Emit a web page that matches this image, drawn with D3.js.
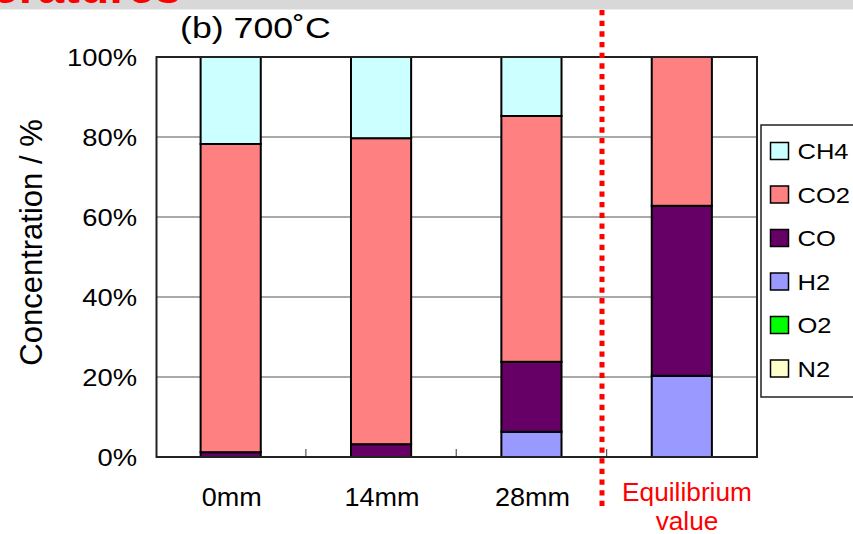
<!DOCTYPE html>
<html><head><meta charset="utf-8">
<script src="https://cdn.jsdelivr.net/npm/d3@7"></script>
<style>body{margin:0;background:#fff}svg{display:block}</style>
</head><body>
<script>
const categories = ["0mm", "14mm", "28mm", "Equilibrium"];
const seriesNames = ["N2", "O2", "H2", "CO", "CO2", "CH4"]; // stack order bottom -> top
const N2  = [0, 0, 0, 0];
const O2  = [0, 0, 0, 0];
const H2  = [0, 0, 6.3, 20.3];
const CO  = [1.2, 3.2, 17.5, 42.5];
const CO2 = [77.05, 76.5, 61.45, 37.2];
const CH4 = [21.75, 20.3, 14.75, 0];
const yTicks = [0, 20, 40, 60, 80, 100];
const legendOrder = ["CH4", "CO2", "CO", "H2", "O2", "N2"];
const colors = {CH4:"#CCFFFF", CO2:"#FF8080", CO:"#660066", H2:"#9999FF", O2:"#00FF00", N2:"#FFFFCC"};

const values = {N2, O2, H2, CO, CO2, CH4};
const rows = categories.map((c,i)=>{const r={cat:c}; seriesNames.forEach(s=>r[s]=values[s][i]); return r;});

const W=853, H=534;
const m={left:156.5, right:757, top:57, bottom:457};
const svg=d3.select("body").append("svg").attr("width",W).attr("height",H);
const FONT="'Liberation Sans', Arial, sans-serif";

function stext(g, x, y, str, size, sx, anchor, fill){
  return g.append("g").attr("transform",`translate(${x},${y}) scale(${sx},1)`)
    .append("text").attr("text-anchor",anchor).attr("font-family",FONT)
    .attr("font-size",size).attr("fill",fill||"#000").text(str);
}

const x=d3.scaleBand().domain(categories).range([155.5,757]).paddingInner(0.6).paddingOuter(0.3);
const y=d3.scaleLinear().domain([0,100]).range([m.bottom,m.top]);

// gridlines
svg.append("g").selectAll("line").data(yTicks.filter(d=>d>0&&d<100)).join("line")
  .attr("x1",m.left).attr("x2",m.right).attr("y1",d=>y(d)).attr("y2",d=>y(d))
  .attr("stroke","#555").attr("stroke-width",1.2);

// x tick marks (between categories, inside)
const step=x.step();
svg.append("g").selectAll("line").data(d3.range(1,categories.length)).join("line")
  .attr("x1",d=>x(categories[d])-(step-x.bandwidth())/2).attr("x2",d=>x(categories[d])-(step-x.bandwidth())/2)
  .attr("y1",m.bottom).attr("y2",m.bottom-8).attr("stroke","#555").attr("stroke-width",1.2);

// bars
const stack=d3.stack().keys(seriesNames)(rows);
const gBars=svg.append("g");
stack.forEach(layer=>{
  gBars.append("g").selectAll("rect").data(layer.filter(d=>d[1]-d[0]>0)).join("rect")
    .attr("x",d=>x(d.data.cat)).attr("width",x.bandwidth())
    .attr("y",d=>y(d[1])).attr("height",d=>y(d[0])-y(d[1]))
    .attr("fill",colors[layer.key]).attr("stroke","#000").attr("stroke-width",2);
});

// plot border
svg.append("rect").attr("x",m.left).attr("y",m.top).attr("width",m.right-m.left).attr("height",m.bottom-m.top)
  .attr("fill","none").attr("stroke","#222").attr("stroke-width",2);

// y axis labels
const yAxis=svg.append("g").attr("transform",`translate(${m.left},0)`)
  .call(d3.axisLeft(y).tickValues(yTicks).tickSize(0).tickFormat(()=>""));
yAxis.select(".domain").remove();
yTicks.forEach(t=>stext(svg, 137, y(t)+8.5, t+"%", 24, 1.14, "end"));

// y axis title
svg.append("text").attr("transform",`translate(41.5,242.5) rotate(-90)`)
  .attr("text-anchor","middle").attr("font-family",FONT).attr("font-size",31).text("Concentration / %");

// x labels
categories.slice(0,3).forEach(c=>stext(svg, x(c)+x.bandwidth()/2+1, 506, c, 25, 1.08, "middle"));
stext(svg, 687, 501, "Equilibrium", 25, 1.05, "middle", "#FF0000");
stext(svg, 687, 530, "value", 25, 1.05, "middle", "#FF0000");

// dotted separator
svg.append("line").attr("x1",602).attr("x2",602).attr("y1",10).attr("y2",506)
  .attr("stroke","#FF0000").attr("stroke-width",5).attr("stroke-dasharray","5.3,5.37");

// title
stext(svg, 180, 38, "(b) 700˚C", 30, 1.19, "start");

// legend
const lg=svg.append("g");
lg.append("rect").attr("x",761).attr("y",125).attr("width",110).attr("height",272)
  .attr("fill","#fff").attr("stroke","#222").attr("stroke-width",1.5);
legendOrder.forEach((k,i)=>{
  const cy=151+i*43.5;
  lg.append("rect").attr("x",770.5).attr("y",cy-8.5).attr("width",18).attr("height",17)
    .attr("fill",colors[k]).attr("stroke","#000").attr("stroke-width",1.5);
  stext(lg, 797.5, cy+8, k, 22, 1.16, "start");
});

// top slide band with cut-off heading
const defs=svg.append("defs");
defs.append("clipPath").attr("id","band").append("rect").attr("x",0).attr("y",0).attr("width",W).attr("height",9);
svg.append("rect").attr("x",0).attr("y",0).attr("width",W).attr("height",9).attr("fill","#d8d8d8");
svg.append("line").attr("x1",0).attr("x2",W).attr("y1",9.5).attr("y2",9.5).attr("stroke","#ececec").attr("stroke-width",1);
svg.append("g").attr("clip-path","url(#band)")
  .append("text").attr("x",-8).attr("y",3).attr("font-family",FONT).attr("font-weight","bold")
  .attr("font-size",48).attr("fill","#FF0000").text("eratures");
</script>
</body></html>
